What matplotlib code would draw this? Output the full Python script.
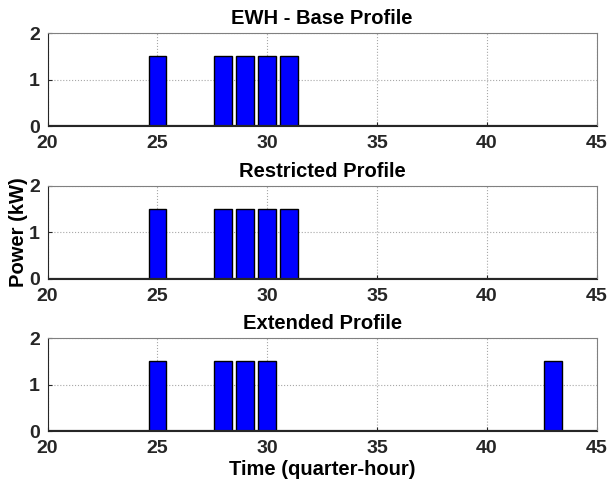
import matplotlib.pyplot as plt

plt.rcParams["font.family"] = ["Liberation Sans", "DejaVu Sans"]
plt.rcParams["font.weight"] = "bold"

# quarter-hour slots shown on the time axis
quarter_hours = list(range(20, 46))

# EWH power per slot (kW)
base_power = [0, 0, 0, 0, 0, 1.5, 0, 0, 1.5, 1.5, 1.5, 1.5, 0,
              0, 0, 0, 0, 0, 0, 0, 0, 0, 0, 0, 0, 0]
restricted_power = [0, 0, 0, 0, 0, 1.5, 0, 0, 1.5, 1.5, 1.5, 1.5, 0,
                    0, 0, 0, 0, 0, 0, 0, 0, 0, 0, 0, 0, 0]
extended_power = [0, 0, 0, 0, 0, 1.5, 0, 0, 1.5, 1.5, 1.5, 0, 0,
                  0, 0, 0, 0, 0, 0, 0, 0, 0, 0, 1.5, 0, 0]

profiles = [
    ("EWH - Base Profile", base_power),
    ("Restricted Profile", restricted_power),
    ("Extended Profile", extended_power),
]

fig, axes = plt.subplots(3, 1, figsize=(6.09, 4.86), dpi=100)
fig.subplots_adjust(left=0.078, right=0.980, top=0.932, bottom=0.113, hspace=0.64)

for ax, (title, power) in zip(axes, profiles):
    ax.bar(quarter_hours, power, width=0.8, color="#0000ff",
           edgecolor="black", linewidth=1.0, zorder=3)
    ax.axhline(0, color="#262626", linewidth=1.6, zorder=4)
    ax.set_xlim(20, 45)
    ax.set_ylim(0, 2)
    ax.set_xticks([20, 25, 30, 35, 40, 45])
    ax.set_yticks([0, 1, 2])
    ax.set_title(title, fontsize=14.5, fontweight="bold", pad=6.5)
    ax.grid(True, linestyle=":", color="#a8a8a8", linewidth=0.8, zorder=0)
    ax.tick_params(direction="in", labelsize=14, length=3, color="#262626")
    ax.tick_params(axis="x", pad=6.5)
    ax.tick_params(axis="y", pad=5.5)
    for side in ["left", "bottom"]:
        ax.spines[side].set_color("#262626")
    for side in ["top", "right"]:
        ax.spines[side].set_color("#808080")
    for lbl in ax.get_xticklabels() + ax.get_yticklabels():
        lbl.set_fontweight("bold")
        lbl.set_color("#262626")

axes[1].set_ylabel("Power (kW)", fontsize=14.5, fontweight="bold", labelpad=1)
axes[2].set_xlabel("Time (quarter-hour)", fontsize=14.5, fontweight="bold", labelpad=2)

fig.savefig("out.png", dpi=100)
plt.close(fig)
